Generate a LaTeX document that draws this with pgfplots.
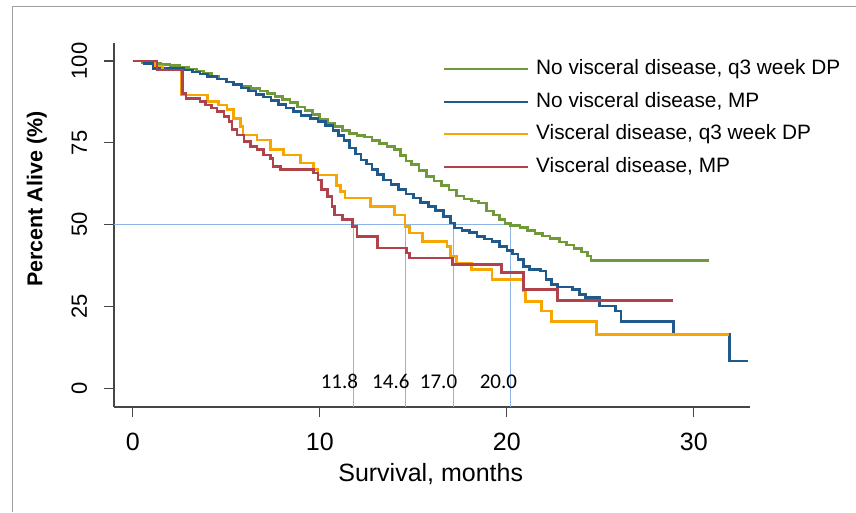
\documentclass[border=0pt]{standalone}
\usepackage{pgfplots}
\pgfplotsset{compat=1.18}
\usepackage{fontspec}
\setmainfont{Liberation Sans}
\newfontfamily\calibri{Carlito}
\definecolor{cgreen}{RGB}{112,153,58}
\definecolor{cblue}{RGB}{32,90,140}
\definecolor{corange}{RGB}{247,165,0}
\definecolor{cred}{RGB}{176,66,76}
\definecolor{cmed}{RGB}{140,180,228}
\definecolor{caxis}{RGB}{70,70,70}
\definecolor{cframe}{RGB}{160,160,160}
\begin{document}
\begin{tikzpicture}[x=1pt,y=1pt]
\path[use as bounding box] (0,0) rectangle (856,512);
\draw[cframe, line width=1.3pt] (12.7,0) -- (12.7,505.3) -- (856,505.3);
\begin{axis}[
 at={(114pt,105pt)}, anchor=south west,
 scale only axis, width=636pt, height=364pt,
 xmin=-1, xmax=33, ymin=-5.7, ymax=105.5,
 axis x line*=bottom, axis y line*=left,
 axis line style={-, caxis, line width=1.3pt},
 xtick={0,10,20,30}, ytick={0,25,50,75,100},
 tick align=outside, major tick length=10pt,
 tick style={caxis, line width=1.2pt},
 /pgf/number format/assume math mode=true,
 xticklabel style={font=\fontsize{25}{30}\selectfont},
 xticklabel shift=13pt,
 yticklabel style={font=\fontsize{22}{26}\selectfont, rotate=90, anchor=south},
 yticklabel shift=13.5pt,
 xlabel={Survival, months},
 xlabel style={font=\fontsize{25}{30}\selectfont, at={(axis description cs:0.498,-0.183)}, anchor=center},
 ylabel={Percent Alive (\%)},
 ylabel style={font=\bfseries\fontsize{21.5}{25}\selectfont, at={(axis description cs:-0.1215,0.571)}, anchor=center},
 legend style={at={(axis description cs:0.5173,0.96)}, anchor=north west, draw=none, fill=none, inner sep=0pt,
   font=\fontsize{20.8}{24}\selectfont, cells={anchor=west}, row sep=12pt,
   /tikz/every odd column/.style={column sep=5pt}},
 legend image code/.code={\draw[#1, line width=2pt] (0pt,-1pt) -- (84pt,-1pt);},
 const plot,
]
% median reference lines
\addplot[cmed, line width=1.3pt, sharp plot, forget plot] coordinates {(-1,50) (20.2,50)};
\addplot[cmed, line width=1.3pt, sharp plot, forget plot] coordinates {(11.8,50) (11.8,-5.7)};
\addplot[cmed, line width=1.3pt, sharp plot, forget plot] coordinates {(14.6,50) (14.6,-5.7)};
\addplot[cmed, line width=1.3pt, sharp plot, forget plot] coordinates {(17.15,50) (17.15,-5.7)};
\addplot[cmed, line width=1.3pt, sharp plot, forget plot] coordinates {(20.2,50) (20.2,-5.7)};
% No visceral disease, q3 week DP
\addplot[cgreen, line width=2.6pt] coordinates {
(0,100) (0.5,99.6) (1.0,99.2) (1.5,98.9) (2.0,98.6) (2.5,98.1) (3.0,97.5) (3.4,96.9) (3.8,96.2) (4.2,95.4) (4.6,94.5) (5.0,93.6) (5.4,92.8) (5.8,92.2) (6.3,91.6) (6.8,90.8) (7.2,90.1) (7.6,89.2) (8.0,88.2) (8.4,87.3) (8.8,86.0) (9.2,84.8) (9.6,83.6) (10.0,82.2) (10.4,81.0) (10.8,80.0) (11.2,78.8) (11.6,77.8) (12.0,77.3) (12.4,76.8) (12.8,75.8) (13.2,74.8) (13.6,73.8) (14.0,72.9) (14.3,71.2) (14.6,69.5) (14.9,68.3) (15.3,66.6) (15.7,64.8) (16.1,63.4) (16.5,62.0) (16.9,60.6) (17.3,58.8) (17.7,57.8) (18.1,57.2) (18.5,56.6) (18.9,54.2) (19.3,53.0) (19.6,51.5) (19.9,50.3) (20.2,49.7) (20.7,49.2) (21.1,48.2) (21.5,47.3) (21.9,46.6) (22.3,45.8) (22.8,44.7) (23.2,43.8) (23.6,42.8) (24.0,41.7) (24.3,40.4) (24.5,39.1) (30.8,39.1)};
\addlegendentry{No visceral disease, q3 week DP}
% No visceral disease, MP
\addplot[cblue, line width=2.6pt] coordinates {
(0,100) (0.6,99.2) (1.1,97.8) (2.7,97.3) (3.2,96.6) (3.6,96.0) (4.0,95.2) (4.5,94.5) (5.0,93.6) (5.4,92.8) (5.8,91.8) (6.2,90.8) (6.6,89.8) (7.0,89.0) (7.4,88.0) (7.8,86.8) (8.2,85.6) (8.6,84.5) (9.0,83.4) (9.5,82.4) (9.9,81.5) (10.3,80.3) (10.7,78.8) (11.0,77.2) (11.3,75.8) (11.6,73.4) (11.9,71.6) (12.2,69.8) (12.5,68.5) (12.8,66.9) (13.1,65.3) (13.4,63.7) (13.8,62.2) (14.2,60.8) (14.6,59.4) (15.0,58.1) (15.4,56.8) (15.8,55.5) (16.2,54.3) (16.6,52.5) (17.0,50.5) (17.2,49.0) (17.6,48.3) (18.0,47.6) (18.4,46.4) (18.8,45.6) (19.2,44.8) (19.6,43.4) (20.0,42.2) (20.3,41.0) (20.6,39.3) (20.9,37.3) (21.2,36.3) (21.8,35.8) (22.1,33.2) (22.4,31.8) (22.7,30.9) (23.5,30.2) (23.9,28.7) (24.2,27.7) (24.96,25.1) (25.8,23.6) (26.1,20.5) (28.9,16.5) (31.9,8.3) (32.9,8.3)};
\addlegendentry{No visceral disease, MP}
% Visceral disease, q3 week DP
\addplot[corange, line width=2.6pt] coordinates {
(0,100) (1.2,98.5) (1.6,97.3) (2.6,89.6) (4.0,87.6) (4.6,86.5) (5.05,85.1) (5.4,82.5) (5.76,80.0) (5.9,77.4) (6.65,75.9) (7.36,72.9) (8.07,71.3) (8.96,68.8) (9.67,66.8) (9.9,65.2) (10.9,62.0) (11.1,60.2) (11.35,58.1) (12.7,55.5) (14.0,53.0) (14.55,49.5) (14.8,47.5) (15.5,44.9) (16.8,43.4) (17.0,40.3) (17.3,38.3) (18.1,36.3) (19.2,33.2) (20.9,29.7) (21.0,26.6) (21.85,23.6) (22.4,20.5) (24.8,16.5) (31.9,16.5)};
\addlegendentry{Visceral disease, q3 week DP}
% Visceral disease, MP
\addplot[cred, line width=2.6pt] coordinates {
(0,100) (1.3,97.3) (2.65,90.1) (2.85,88.6) (3.6,87.6) (3.9,86.5) (4.2,85.6) (4.5,84.5) (4.87,83.0) (5.14,81.5) (5.3,79.0) (5.58,77.4) (5.94,75.4) (6.3,73.9) (6.65,72.9) (7.0,71.3) (7.36,70.3) (7.5,67.8) (7.9,66.8) (9.67,65.8) (9.9,63.7) (10.1,60.7) (10.4,58.6) (10.65,55.6) (10.8,53.0) (11.2,51.5) (11.75,49.5) (12.0,46.4) (13.1,42.9) (14.65,41.4) (14.8,39.8) (17.1,37.8) (19.7,35.3) (20.9,30.2) (22.7,26.9) (28.9,26.9)};
\addlegendentry{Visceral disease, MP}
% median labels
\node[font=\calibri\fontsize{21}{24}\selectfont] at (axis cs:11.05,2.0) {11.8};
\node[font=\calibri\fontsize{21}{24}\selectfont] at (axis cs:13.8,2.0) {14.6};
\node[font=\calibri\fontsize{21}{24}\selectfont] at (axis cs:16.35,2.0) {17.0};
\node[font=\calibri\fontsize{21}{24}\selectfont] at (axis cs:19.55,2.0) {20.0};
\end{axis}
\end{tikzpicture}
\end{document}
